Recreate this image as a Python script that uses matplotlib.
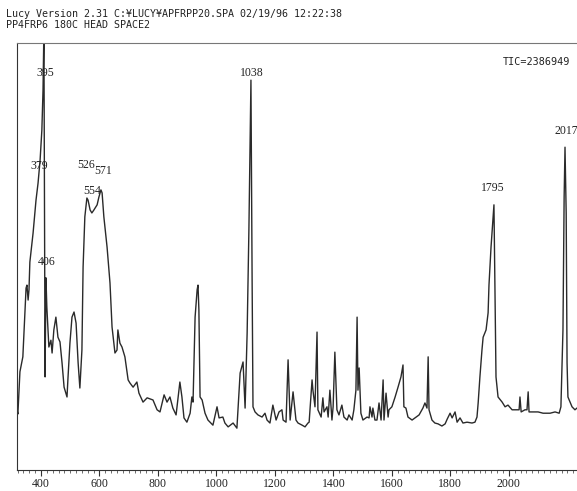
import numpy as np
import matplotlib.pyplot as plt
from matplotlib.ticker import MultipleLocator

# total ion chromatogram, read point by point (x = scan axis, y = % of full scale)
scan = [318, 321, 328, 338, 349, 352, 356, 359, 362, 373, 383, 390, 397, 403, 407,
        410, 414, 417, 420, 427, 434, 438, 444, 451, 458, 465, 472, 479, 489, 492,
        499, 506, 513, 520, 527, 533, 540, 544, 550, 557, 561, 568, 574, 581, 592,
        598, 605, 609, 615, 626, 636, 643, 653, 660, 663, 670, 677, 687, 698, 704,
        715, 728, 735, 749, 763, 783, 797, 807, 821, 831, 841, 851, 862, 872, 875,
        882, 889, 899, 910, 916, 920, 927, 934, 937, 940, 944, 951, 961, 971, 988,
        1002, 1009, 1022, 1029, 1040, 1057, 1070, 1081, 1091, 1098, 1105, 1111, 1118, 1122, 1125,
        1132, 1142, 1156, 1166, 1173, 1183, 1193, 1204, 1214, 1224, 1228, 1238, 1245, 1252, 1262,
        1272, 1279, 1293, 1303, 1313, 1317, 1327, 1330, 1337, 1344, 1347, 1358, 1364, 1368, 1378,
        1382, 1388, 1395, 1399, 1405, 1412, 1419, 1429, 1436, 1447, 1453, 1464, 1470, 1477, 1481,
        1484, 1488, 1494, 1501, 1515, 1522, 1525, 1532, 1535, 1542, 1549, 1556, 1563, 1570, 1573,
        1580, 1587, 1590, 1600, 1611, 1621, 1631, 1638, 1641, 1648, 1655, 1669, 1679, 1693, 1706,
        1713, 1720, 1724, 1727, 1737, 1747, 1758, 1771, 1782, 1789, 1799, 1806, 1816, 1823, 1833,
        1843, 1857, 1874, 1884, 1891, 1895, 1901, 1908, 1912, 1922, 1929, 1932, 1939, 1946, 1949,
        1953, 1956, 1963, 1977, 1987, 1997, 2011, 2028, 2035, 2038, 2042, 2055, 2062, 2066, 2069,
        2083, 2100, 2117, 2141, 2158, 2172, 2178, 2185, 2189, 2192, 2196, 2199, 2202, 2216, 2226,
        2233]
tic = [14.1, 13.1, 23.0, 26.5, 42.6, 43.3, 39.8, 42.2, 48.7, 55.5, 63.2, 67.2, 72.6, 79.6, 89.0,
       103.0, 21.8, 45.0, 38.2, 28.8, 30.4, 27.4, 32.8, 35.8, 31.1, 30.0, 25.1, 19.4, 17.1, 21.1,
       29.7, 35.8, 37.0, 34.4, 25.1, 19.2, 28.1, 47.5, 59.3, 63.7, 63.2, 60.9, 60.2, 60.9, 62.1,
       63.9, 65.6, 64.9, 59.3, 52.2, 43.8, 33.5, 27.4, 28.1, 32.8, 29.7, 28.8, 26.5, 21.1, 20.4,
       19.4, 20.6, 18.0, 15.9, 16.9, 16.4, 14.1, 13.6, 17.6, 15.9, 17.1, 14.5, 12.9, 18.7, 20.6,
       17.1, 12.2, 11.2, 13.3, 17.1, 15.9, 35.8, 42.2, 43.3, 37.5, 17.1, 16.4, 13.3, 11.7, 10.5,
       14.8, 12.2, 12.4, 11.0, 10.1, 11.0, 9.8, 22.7, 25.3, 14.5, 32.1, 56.2, 91.3, 44.5, 14.8,
       13.6, 12.9, 12.4, 13.3, 11.7, 11.0, 15.2, 11.7, 13.6, 14.1, 11.7, 11.2, 25.8, 11.7, 18.3,
       11.7, 11.0, 10.5, 10.1, 11.0, 11.2, 21.1, 18.7, 14.8, 32.3, 14.1, 12.4, 16.9, 13.6, 14.8,
       12.4, 18.7, 11.7, 14.8, 27.6, 14.1, 12.9, 15.2, 12.4, 11.7, 12.9, 11.7, 14.1, 18.7, 35.8,
       18.7, 23.9, 13.3, 11.7, 12.4, 12.2, 14.8, 12.4, 14.5, 11.7, 11.7, 15.7, 11.7, 21.1, 11.7,
       18.0, 12.4, 14.1, 14.8, 17.1, 19.4, 21.8, 24.6, 14.8, 14.5, 12.4, 11.7, 12.2, 12.9, 14.5,
       15.7, 14.5, 26.5, 14.1, 11.7, 11.0, 10.8, 10.3, 10.8, 11.9, 13.3, 12.2, 13.6, 11.2, 12.2,
       11.0, 11.2, 11.0, 11.2, 12.4, 15.7, 21.8, 28.1, 31.1, 32.8, 36.8, 43.3, 52.2, 59.3, 62.1,
       39.8, 21.8, 17.1, 15.9, 14.8, 15.2, 14.1, 14.1, 14.1, 17.1, 13.6, 14.1, 14.1, 18.3, 13.6,
       13.6, 13.6, 13.3, 13.3, 13.6, 13.3, 14.8, 32.8, 63.9, 75.6, 60.2, 25.1, 17.1, 14.8, 14.1,
       14.5]

# peak annotations: label text, where it sits on the scan axis and its height
peak_labels = ['395', '379', '406', '526', '571', '554', '1038', '1795', '2017']
label_x = [414, 393, 420, 553, 611, 574, 1122, 1946, 2196]
label_y = [93.0, 71.2, 48.7, 71.4, 70.0, 65.3, 93.0, 66.0, 79.4]

axis_ticks = [400, 600, 800, 1000, 1200, 1400, 1600, 1800, 2000]

header = ['Lucy Version 2.31 C:\u00a5LUCY\u00a5APFRPP20.SPA 02/19/96 12:22:38',
          'PP4FRP6 180C HEAD SPACE2']
tic_total = 'TIC=2386949'

fig = plt.figure(figsize=(5.77, 4.91), dpi=100)
ax = fig.add_axes([17 / 577, 21 / 491, 560 / 577, 427 / 491])

ax.plot(scan, tic, color='#2a2a2a', lw=1.0)

for txt, x, y in zip(peak_labels, label_x, label_y):
    ax.text(x, y, txt, ha='center', va='center', fontsize=8.5,
            family='Liberation Serif', color='#222222')

ax.text(0.927, 0.955, tic_total, transform=ax.transAxes, ha='center', va='center',
        fontsize=7.3, family='DejaVu Sans Mono', color='#222222')

for i, line in enumerate(header):
    fig.text(6 / 577, 1 - (14 + 11 * i) / 491, line, ha='left', va='center',
             fontsize=7.2, family='DejaVu Sans Mono', color='#222222')

ax.set_xlim(318, 2233)
ax.set_ylim(0, 100)
ax.set_xticks(axis_ticks)
ax.xaxis.set_minor_locator(MultipleLocator(20))
ax.set_yticks([])
ax.tick_params(axis='x', which='major', direction='out', length=4, width=0.8,
               color='#333333', pad=2, labelsize=8.5)
ax.tick_params(axis='x', which='minor', direction='out', length=2, width=0.6,
               color='#555555')
for lab in ax.get_xticklabels():
    lab.set_family('Liberation Serif')
    lab.set_color('#222222')

ax.spines['right'].set_visible(False)
ax.spines['left'].set_color('#333333')
ax.spines['bottom'].set_color('#333333')
ax.spines['top'].set_color('#777777')
for s in ['left', 'bottom', 'top']:
    ax.spines[s].set_linewidth(0.8)

fig.savefig('out.png', dpi=100)
